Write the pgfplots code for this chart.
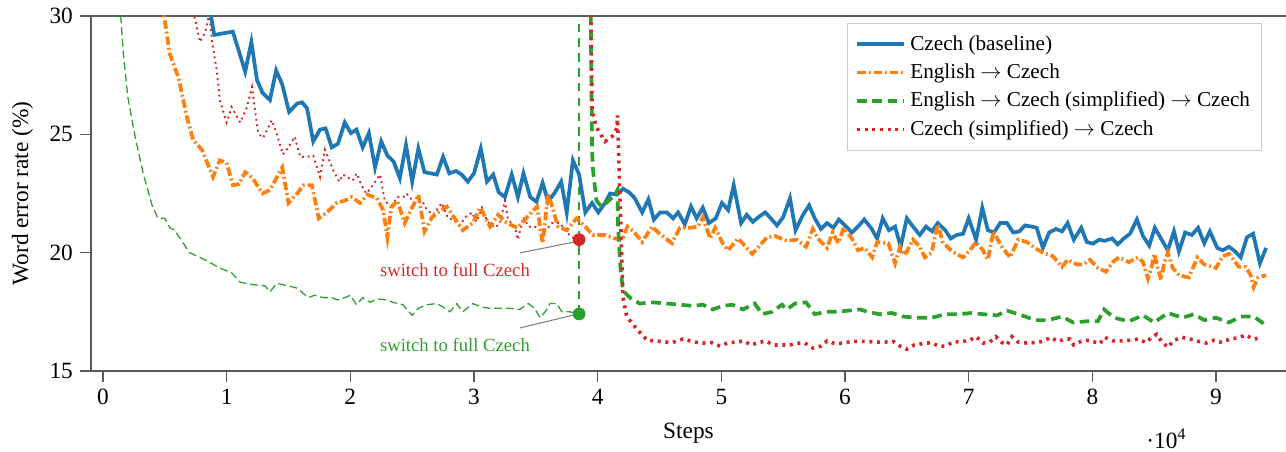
\documentclass[border=0pt]{standalone}
\usepackage{fontspec}
\setmainfont{Liberation Serif}
\usepackage{pgfplots}
\pgfplotsset{compat=1.18}
\definecolor{cblue}{RGB}{31,119,180}
\definecolor{corange}{RGB}{255,127,14}
\definecolor{cgreen}{RGB}{44,160,44}
\definecolor{cred}{RGB}{214,39,40}
\definecolor{lightgray204}{RGB}{204,204,204}
\definecolor{axgray}{RGB}{90,90,90}
\begin{document}
\begin{tikzpicture}
\begin{axis}[
  scale only axis,
  width=563.7pt, height=167.45pt,
  xmin=-970, xmax=95660,
  ymin=15, ymax=30,
  clip mode=individual,
  axis x line*=box, axis y line*=left,
  axis line style={axgray, line width=0.6pt},
  xtick={0,10000,20000,30000,40000,50000,60000,70000,80000,90000},
  xticklabels={0,1,2,3,4,5,6,7,8,9},
  scaled x ticks=false,
  ytick={15,20,25,30},
  xtick pos=lower, ytick pos=left,
  tick align=outside,
  major tick length=5pt,
  tick style={axgray, line width=0.6pt},
  tick label style={font=\fontsize{11}{13}\selectfont},
  /pgf/number format/assume math mode=true,
  label style={font=\fontsize{11}{13}\selectfont},
  xlabel={Steps},
  ylabel={Word error rate (\%)},
  xlabel style={at={(axis description cs:0.5,-0.189)}, anchor=base},
  ylabel style={at={(axis description cs:-0.0527,0.5)}, anchor=base},
  legend cell align=left,
  legend style={font=\fontsize{10}{12}\selectfont, fill opacity=0.8, draw opacity=1, text opacity=1,
    at={(0.98,0.98)}, anchor=north east, draw=lightgray204, row sep=0.9pt, inner ysep=3.6pt, inner xsep=3.5pt},
  legend image code/.code={\draw[#1] plot coordinates {(0cm,0cm) (0.4cm,0cm) (0.78cm,0cm)};},
]
% thin pre-switch: English -> Czech (simplified)
\addplot[cgreen, line width=0.6pt, dash pattern=on 3.7pt off 1.8pt, forget plot] coordinates {
(1300,31) (1650,28.4) (2000,26.6) (2600,24.9) (3250,23.35) (4000,21.95) (4450,21.45) (5000,21.45) (5400,21.05) (5800,20.95) (7000,20.0) (8250,19.7) (9450,19.35) (10400,19.15) (11100,18.75) (12100,18.65) (13100,18.6) (13500,18.35) (14050,18.7) (15350,18.55) (15700,18.5) (16600,18.1) (17100,18.2) (17800,18.1) (18500,18.1) (19000,18.0) (19550,18.1) (20000,18.2) (20500,17.8) (21000,18.1) (21600,17.9) (22200,18.05) (22950,18.0) (23450,17.9) (24250,17.8) (25000,17.35) (25500,17.65) (26200,17.8) (27000,17.85) (27500,17.7) (28050,17.5) (28600,17.85) (29100,17.5) (29900,17.85) (30650,17.7) (31300,17.65) (31950,17.65) (32900,17.65) (33700,17.6) (34400,17.85) (34900,17.65) (35350,17.25) (35900,17.6) (36150,17.85) (36700,17.85) (37100,17.5) (37750,17.5) (38500,17.41)
};
% vertical switch line
\addplot[cgreen, line width=0.6pt, dash pattern=on 4pt off 3pt, forget plot] coordinates {(38500,17.41) (38500,30)};
% thin pre-switch: Czech (simplified)
\addplot[cred, line width=0.9pt, dash pattern=on 0.9pt off 1.7pt, forget plot] coordinates {
(7300,30.2) (7850,28.9) (8250,29.3) (8600,30.1) (8800,29.0) (9200,27.7) (9450,26.45) (9700,26.0) (10000,25.5) (10400,26.15) (11100,25.5) (11600,26.1) (12050,27.0) (12300,26.0) (12550,25.05) (12950,24.85) (13650,25.6) (14000,25.1) (14550,24.15) (15000,24.45) (15500,24.9) (15950,24.05) (16500,24.05) (17000,24.1) (17550,23.2) (17950,24.35) (18600,23.5) (19100,23.0) (19400,23.3) (20200,23.05) (20500,23.35) (20900,22.85) (21300,22.5) (21750,22.8) (22400,23.3) (22800,22.15) (23350,22.0) (23800,22.35) (24300,22.35) (24550,22.5) (25200,22.1) (25800,22.2) (26200,21.8) (26700,21.6) (27400,22.1) (27900,21.45) (28300,21.4) (28850,21.15) (29300,21.5) (29850,21.7) (30200,21.3) (30650,21.9) (31100,21.3) (31700,21.05) (32100,21.25) (32500,22.2) (32750,21.4) (33300,21.1) (33550,20.55) (34000,21.5) (34400,21.1) (34900,21.1) (35350,20.95) (35750,20.9) (36300,21.25) (36950,21.25) (37350,20.95) (37900,20.65) (38500,20.55)
};
% Czech (baseline)
\addplot[cblue, line width=1.75pt] coordinates {
(8400,31.0) (9000,29.2) (10500,29.34) (11500,27.65) (12000,28.9) (12450,27.3) (12900,26.75) (13500,26.45) (14000,27.7) (14500,27.1) (15050,25.95) (15700,26.3) (16100,26.35) (16500,26.1) (17000,24.7) (17550,25.2) (18000,25.25) (18500,24.45) (19000,24.6) (19550,25.5) (20050,25.05) (20500,25.2) (21000,24.45) (21500,25.05) (22000,23.6) (22500,24.7) (23000,24.1) (23500,23.85) (24000,23.15) (24500,24.55) (25000,23.0) (25500,24.4) (26000,23.4) (26500,23.35) (27000,23.3) (27500,24.05) (28000,23.35) (28550,23.45) (29000,23.3) (29500,23.0) (30000,23.35) (30550,24.4) (31050,23.0) (31550,23.3) (32000,22.55) (32500,22.35) (33050,23.3) (33550,22.35) (34000,23.35) (34550,22.35) (35050,22.15) (35550,22.95) (36000,22.15) (36550,22.55) (37050,23.0) (37500,21.7) (38000,23.9) (38500,23.3) (39000,21.7) (39550,22.1) (40050,21.7) (40600,22.1) (41000,22.5) (41550,22.45) (42050,22.7) (42550,22.55) (43000,22.3) (43600,21.7) (44100,22.25) (44550,21.4) (45050,21.7) (45600,21.7) (46100,21.45) (46500,21.7) (47050,21.2) (47550,21.95) (48000,21.45) (48500,21.9) (49000,21.25) (49550,21.45) (50050,22.1) (50550,21.8) (51000,22.85) (51600,21.25) (52050,21.6) (52550,21.3) (53000,21.5) (53550,21.7) (54000,21.45) (54500,21.15) (55000,21.5) (55550,22.3) (56000,20.95) (56600,21.6) (57100,22.0) (57550,21.45) (58050,21.0) (58550,21.25) (59050,21.05) (59500,21.4) (60100,21.1) (60550,20.85) (61050,21.1) (61550,21.4) (62100,21.05) (62600,20.6) (63050,21.45) (63550,20.95) (64050,21.1) (64500,20.25) (65000,21.45) (65500,21.1) (66050,20.75) (66550,21.1) (67050,20.9) (67500,21.25) (68100,20.95) (68550,20.6) (69050,20.75) (69550,20.8) (70000,21.45) (70600,20.55) (71100,21.9) (71550,20.95) (72050,20.85) (72550,21.25) (73100,21.25) (73600,20.85) (74100,20.9) (74550,21.15) (75100,21.1) (75500,21.05) (76000,20.2) (76500,20.85) (77050,21.0) (77550,20.9) (78000,21.25) (78500,20.55) (79100,21.05) (79550,20.45) (80050,20.38) (80550,20.55) (81000,20.5) (81600,20.6) (82050,20.35) (82550,20.6) (83050,20.8) (83600,21.4) (84100,20.7) (84600,20.3) (85050,21.05) (85550,20.6) (86100,20.1) (86600,20.9) (87000,20.05) (87500,20.85) (88050,20.75) (88550,21.05) (89050,20.4) (89500,20.9) (90100,20.2) (90550,20.1) (91050,20.25) (91550,20.05) (92000,19.8) (92500,20.65) (93000,20.8) (93550,19.55) (94050,20.2)
};
\addlegendentry{Czech (baseline)}
% English -> Czech
\addplot[corange, line width=1.75pt, dash pattern=on 4pt off 1.4pt on 0.9pt off 1.4pt] coordinates {
(4800,30.5) (5400,28.4) (6100,27.4) (6800,25.7) (7300,24.75) (8000,24.35) (8900,23.2) (9450,23.9) (10000,23.8) (10500,22.85) (11000,22.9) (11500,23.4) (12100,23.15) (12900,22.5) (13500,22.65) (14500,23.6) (15000,22.1) (15700,22.5) (16200,22.85) (16900,22.85) (17450,21.45) (18100,21.7) (18900,22.1) (19550,22.2) (20100,22.35) (20800,22.1) (21400,22.45) (22150,22.3) (22650,21.8) (23000,20.65) (23300,21.9) (23800,22.2) (24400,21.25) (24900,21.8) (25500,22.45) (26000,20.9) (26600,21.5) (27100,21.7) (27800,21.95) (28500,21.4) (29100,20.95) (29900,21.25) (30500,21.9) (31300,21.1) (31950,21.6) (32650,21.25) (33500,21.05) (34300,21.5) (35100,21.95) (35550,20.4) (36000,22.5) (36800,21.1) (37500,20.95) (38300,21.45) (39000,21.1) (39600,20.75) (40600,20.75) (41400,20.6) (42000,20.55) (42400,21.1) (42900,20.9) (43600,20.45) (44400,21.1) (45000,20.8) (46000,20.4) (46650,21.05) (47450,21.05) (48100,21.1) (48500,21.5) (49100,20.6) (49500,21.05) (50100,20.4) (50550,20.1) (51350,20.6) (52500,19.95) (53700,20.65) (54350,20.7) (55300,20.5) (56100,20.55) (56850,20.25) (57400,21.0) (57800,20.6) (58550,20.2) (59000,20.85) (59450,20.4) (59900,21.05) (60550,20.6) (61050,20.1) (61600,20.2) (62200,19.8) (62600,20.45) (63500,20.4) (64050,19.55) (64450,20.25) (64850,19.9) (65500,20.55) (66050,20.25) (66450,19.8) (67000,20.0) (67500,21.2) (67900,20.45) (68650,20.05) (69550,19.8) (70100,20.1) (70600,20.45) (71150,20.1) (71550,19.7) (72000,20.9) (72600,20.3) (73350,19.8) (74000,20.55) (74700,20.45) (75500,20.15) (76000,20.0) (76800,19.85) (77550,19.4) (78000,19.7) (78750,19.5) (79250,19.5) (79800,19.7) (80450,19.35) (81100,19.2) (81650,19.6) (82150,19.8) (82950,19.6) (83700,19.8) (84100,19.6) (84500,18.9) (84800,19.4) (85000,19.95) (85300,19.35) (85550,18.85) (85800,19.55) (86100,20.0) (86500,19.35) (87000,19.05) (87800,18.95) (88500,19.8) (89050,19.5) (90000,19.35) (90550,19.85) (91050,19.95) (91850,19.4) (92400,19.4) (92800,19.05) (93050,18.55) (93400,18.95) (94050,19.05)
};
\addlegendentry{English $\rightarrow$ Czech}
% English -> Czech (simplified) -> Czech
\addplot[cgreen, line width=1.75pt, dash pattern=on 4.6pt off 2.6pt] coordinates {
(39400,32) (39550,24.35) (39600,23.6) (39900,22.2) (40300,21.95) (40800,22.15) (41400,22.45) (41600,22.65) (41650,21.1) (41850,19.3) (42050,18.4) (42600,18.1) (43400,17.85) (44500,17.9) (45600,17.85) (46650,17.8) (47700,17.75) (48500,17.8) (49300,17.6) (50100,17.75) (50900,17.8) (51750,17.6) (52700,17.85) (53300,17.4) (54100,17.5) (54900,17.8) (55300,17.6) (55950,17.85) (56850,17.9) (57550,17.4) (58450,17.5) (59350,17.5) (60250,17.55) (61200,17.6) (61850,17.5) (62800,17.4) (63800,17.45) (64700,17.3) (65800,17.25) (67000,17.25) (68100,17.4) (69150,17.4) (70250,17.45) (71150,17.4) (72300,17.35) (73100,17.55) (74300,17.35) (75350,17.15) (76400,17.15) (77550,17.3) (78450,17.05) (79550,17.1) (80450,17.1) (80950,17.6) (81750,17.25) (82950,17.1) (84100,17.35) (85000,17.05) (86100,17.45) (87300,17.25) (88200,17.4) (89050,17.15) (90000,17.25) (91050,17.05) (92000,17.3) (93050,17.3) (94000,16.95)
};
\addlegendentry{English $\rightarrow$ Czech (simplified) $\rightarrow$ Czech}
% Czech (simplified) -> Czech
\addplot[cred, line width=1.7pt, dash pattern=on 1.4pt off 2.2pt] coordinates {
(39400,32) (39550,26.0) (39900,25.3) (40600,24.7) (41150,24.9) (41550,25.25) (41600,25.8) (42050,18.1) (42350,17.3) (43200,16.75) (44000,16.3) (45050,16.25) (46000,16.2) (46900,16.35) (47900,16.22) (48500,16.18) (49200,16.2) (49900,16.05) (50550,16.2) (51250,16.22) (51800,16.27) (52400,16.1) (53000,16.2) (53600,16.27) (54200,16.1) (54900,16.1) (55550,16.1) (56100,16.18) (56750,16.18) (57400,15.97) (58050,16.05) (58550,16.27) (59200,16.15) (59850,16.18) (60550,16.25) (61200,16.25) (61850,16.25) (62500,16.22) (63200,16.22) (63900,16.25) (64450,16.05) (65000,15.92) (65600,16.1) (66200,16.15) (66950,16.2) (67600,16.05) (68150,16.05) (68700,16.22) (69400,16.25) (70000,16.27) (70600,16.45) (71150,16.18) (71700,16.22) (72200,16.45) (72700,16.2) (73100,16.1) (73500,16.45) (74000,16.22) (74700,16.18) (75350,16.2) (76000,16.25) (76650,16.42) (77200,16.25) (77800,16.35) (78200,16.35) (78500,16.1) (79150,16.27) (79750,16.3) (80200,16.22) (80600,16.15) (81000,16.42) (81650,16.27) (82400,16.27) (83050,16.3) (83700,16.35) (84350,16.2) (84800,16.42) (85200,16.55) (85600,16.25) (86100,16.0) (86600,16.3) (87250,16.42) (87900,16.35) (88600,16.25) (89200,16.18) (89850,16.3) (90500,16.2) (91100,16.35) (91800,16.4) (92400,16.52) (93000,16.35) (93650,16.4)
};
\addlegendentry{Czech (simplified) $\rightarrow$ Czech}
% annotation connectors and markers
\addplot[gray, line width=0.5pt, forget plot] coordinates {(33720,19.99) (38100,20.45)};
\addplot[gray, line width=0.5pt, forget plot] coordinates {(33720,16.82) (38100,17.37)};
\addplot[only marks, mark=*, mark size=2.8pt, cred, forget plot] coordinates {(38500,20.55)};
\addplot[only marks, mark=*, mark size=2.8pt, cgreen, forget plot] coordinates {(38500,17.41)};
\node[text=cred, font=\fontsize{8.8}{10}\selectfont] at (axis cs:28460,19.27) {switch to full Czech};
\node[text=cgreen, font=\fontsize{8.8}{10}\selectfont] at (axis cs:28460,16.1) {switch to full Czech};
\node[anchor=base, font=\fontsize{11}{13}\selectfont] at (axis description cs:0.9,-0.217) {·10\textsuperscript{4}};
\end{axis}
\pgfresetboundingbox
\path[use as bounding box] (-42.92pt,-38.21pt) rectangle (563.7pt,175.0pt);
\end{tikzpicture}
\end{document}
